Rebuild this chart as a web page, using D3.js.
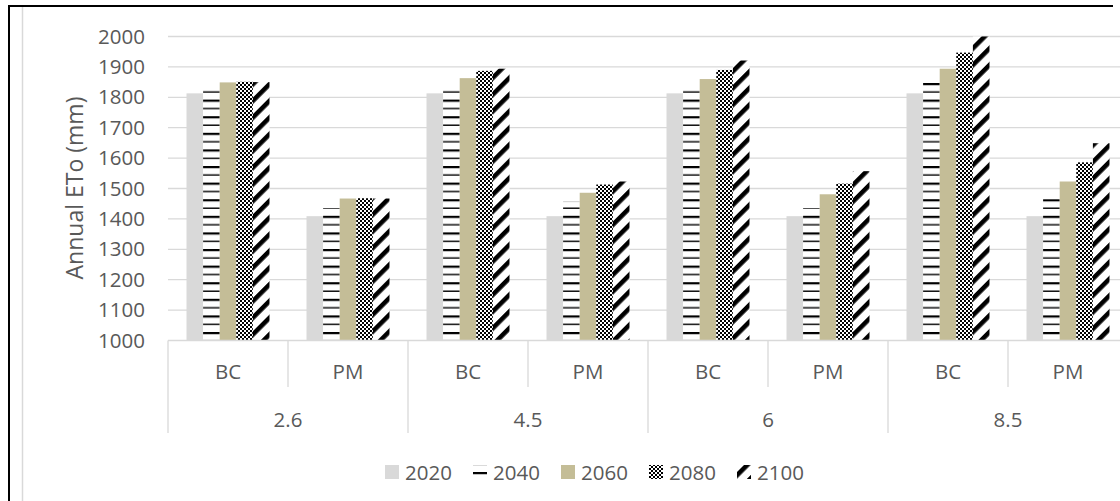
<!DOCTYPE html>
<html>
<head>
<meta charset="utf-8">
<script src="https://cdn.jsdelivr.net/npm/d3@7"></script>
<style>
  html, body { margin: 0; padding: 0; background: #fff; }
  svg { display: block; }
  text { font-family: "Open Sans", "Liberation Sans", sans-serif; fill: #595959; }
</style>
</head>
<body>
<div id="chart"></div>
<script>
// ---- data ----
const scenarios = ["2.6", "4.5", "6", "8.5"];
const methods = ["BC", "PM"];
const years = ["2020", "2040", "2060", "2080", "2100"];
const v2020 = [1813, 1409, 1813, 1409, 1813, 1409, 1813, 1409];
const v2040 = [1826, 1435, 1826, 1457, 1826, 1435, 1849, 1465];
const v2060 = [1849, 1467, 1863, 1486, 1860, 1481, 1894, 1523];
const v2080 = [1851, 1468, 1887, 1513, 1890, 1516, 1947, 1586];
const v2100 = [1850, 1467, 1894, 1523, 1921, 1557, 2000, 1649];
const yTicks = [1000, 1100, 1200, 1300, 1400, 1500, 1600, 1700, 1800, 1900, 2000];
const yTitle = "Annual ETo (mm)";

const seriesValues = [v2020, v2040, v2060, v2080, v2100];
const cats = [];
scenarios.forEach(s => methods.forEach(m => cats.push(s + "|" + m)));

const W = 1120, H = 501;
const svg = d3.select("#chart").append("svg").attr("width", W).attr("height", H);

// ---- patterns ----
const defs = svg.append("defs");
// horizontal stripes (2040)
const pH = defs.append("pattern").attr("id", "p2040").attr("patternUnits", "userSpaceOnUse")
  .attr("width", 8).attr("height", 16.6);
pH.append("rect").attr("width", 8).attr("height", 16.6).attr("fill", "#fff");
pH.append("rect").attr("y", 0).attr("width", 8).attr("height", 2.2).attr("fill", "#000");
pH.append("rect").attr("y", 8.3).attr("width", 8).attr("height", 1.4).attr("fill", "#000");
// checker (2080)
const pC = defs.append("pattern").attr("id", "p2080").attr("patternUnits", "userSpaceOnUse")
  .attr("width", 4).attr("height", 4);
pC.append("rect").attr("width", 4).attr("height", 4).attr("fill", "#fff");
pC.append("rect").attr("width", 2).attr("height", 2).attr("fill", "#000");
pC.append("rect").attr("x", 2).attr("y", 2).attr("width", 2).attr("height", 2).attr("fill", "#000");
// diagonal up stripes (2100)
const pD = defs.append("pattern").attr("id", "p2100").attr("patternUnits", "userSpaceOnUse")
  .attr("width", 11.8).attr("height", 11.8).attr("patternTransform", "rotate(45)");
pD.append("rect").attr("width", 11.8).attr("height", 11.8).attr("fill", "#fff");
pD.append("rect").attr("width", 4.6).attr("height", 11.8).attr("fill", "#000");

const fills = { "2020": "#d9d9d9", "2040": "url(#p2040)", "2060": "#c4bd97", "2080": "url(#p2080)", "2100": "url(#p2100)" };

// ---- scales ----
const plotL = 168, bandW = 120;
const x0 = d3.scaleBand().domain(cats).range([plotL, plotL + bandW * cats.length]).padding(0);
const x1 = d3.scaleBand().domain(years).range([0, x0.bandwidth()]).paddingInner(0).paddingOuter(1.115);
const y = d3.scaleLinear().domain([1000, 2000]).range([340.5, 36.5]);

// ---- chart border ----
svg.append("line").attr("x1", 9).attr("x2", 9).attr("y1", 5).attr("y2", H).attr("stroke", "#000").attr("stroke-width", 2);
svg.append("line").attr("x1", 8).attr("x2", 1113).attr("y1", 6).attr("y2", 6).attr("stroke", "#000").attr("stroke-width", 2);
svg.append("line").attr("x1", 22.5).attr("x2", 22.5).attr("y1", 7).attr("y2", H).attr("stroke", "#d9d9d9").attr("stroke-width", 1.5);

// ---- gridlines ----
svg.append("g").selectAll("line").data(yTicks.slice(1)).join("line")
  .attr("x1", plotL).attr("x2", x0.range()[1])
  .attr("y1", d => y(d)).attr("y2", d => y(d))
  .attr("stroke", "#d9d9d9").attr("stroke-width", 1.3);

// ---- y axis labels ----
const yAxis = d3.axisLeft(y).tickValues(yTicks).tickSize(0).tickPadding(0).tickFormat(d3.format("d"));
const gy = svg.append("g").attr("transform", `translate(${145},0)`).call(yAxis);
gy.select(".domain").remove();
gy.selectAll("text").attr("font-size", 20.5).style("font-family", '"Open Sans", sans-serif').attr("fill", "#595959");

svg.append("text").attr("transform", `translate(${74},${188}) rotate(-90)`)
  .attr("text-anchor", "middle").attr("dominant-baseline", "central")
  .attr("font-size", 23).text(yTitle);

// ---- bars ----
years.forEach((yr, si) => {
  svg.append("g").selectAll("rect").data(seriesValues[si]).join("rect")
    .attr("x", (d, i) => x0(cats[i]) + x1(yr))
    .attr("width", x1.bandwidth())
    .attr("y", d => y(d))
    .attr("height", d => y(1000) - y(d))
    .attr("fill", fills[yr]);
});

// ---- category axis ----
const axisY = y(1000);
svg.append("line").attr("x1", plotL).attr("x2", x0.range()[1]).attr("y1", axisY).attr("y2", axisY)
  .attr("stroke", "#d9d9d9").attr("stroke-width", 1.3);
// short dividers between methods
svg.append("g").selectAll("line").data(scenarios).join("line")
  .attr("x1", s => x0(s + "|PM")).attr("x2", s => x0(s + "|PM"))
  .attr("y1", axisY).attr("y2", 387).attr("stroke", "#d9d9d9").attr("stroke-width", 1.3);
// long dividers between scenarios
svg.append("g").selectAll("line").data(scenarios).join("line")
  .attr("x1", s => x0(s + "|BC")).attr("x2", s => x0(s + "|BC"))
  .attr("y1", axisY).attr("y2", 433).attr("stroke", "#d9d9d9").attr("stroke-width", 1.3);
// method labels
svg.append("g").selectAll("text").data(cats).join("text")
  .attr("x", c => x0(c) + x0.bandwidth() / 2).attr("y", 371)
  .attr("text-anchor", "middle").attr("dominant-baseline", "central")
  .attr("font-size", 20.5).text(c => c.split("|")[1]);
// scenario labels
svg.append("g").selectAll("text").data(scenarios).join("text")
  .attr("x", s => x0(s + "|BC") + x0.bandwidth()).attr("y", 419)
  .attr("text-anchor", "middle").attr("dominant-baseline", "central")
  .attr("font-size", 20.5).text(s => s);

// ---- legend ----
const legX = d3.scaleBand().domain(years).range([385, 385 + 88 * years.length]);
const lg = svg.append("g").selectAll("g").data(years).join("g")
  .attr("transform", d => `translate(${legX(d)},${472})`);
lg.append("rect").attr("x", 0).attr("y", -7).attr("width", 14).attr("height", 14).attr("fill", d => fills[d]);
lg.append("text").attr("x", 20).attr("y", 0).attr("dominant-baseline", "central")
  .attr("font-size", 20.5).text(d => d);
</script>
</body>
</html>
